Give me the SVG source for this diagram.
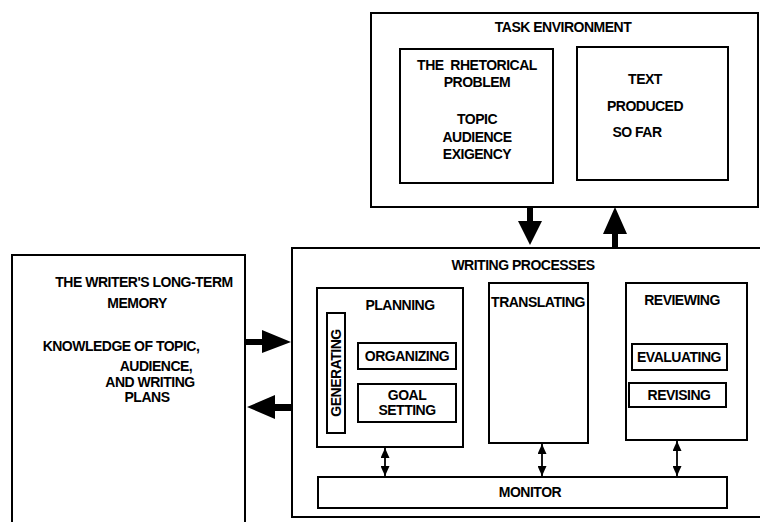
<svg xmlns="http://www.w3.org/2000/svg" width="760" height="522" viewBox="0 0 760 522">
  <style>
    .box { fill: none; stroke: #000; stroke-width: 2; }
    .t { font-family: "Liberation Sans", Arial, sans-serif; font-weight: bold; font-size: 14px; fill: #000; text-anchor: middle; letter-spacing: -0.5px; }
    .big { fill: #000; stroke: none; }
    .thin { stroke: #000; stroke-width: 1.8; fill: none; }
  </style>
  <defs>
    <marker id="tip" viewBox="0 0 10 9" refX="10" refY="4.5" markerWidth="10" markerHeight="9" orient="auto-start-reverse" markerUnits="userSpaceOnUse">
      <path d="M0,0 L10,4.5 L0,9 Z" fill="#000"/>
    </marker>
  </defs>
  <rect width="760" height="522" fill="#fff"/>

  <!-- task environment -->
  <g id="task-environment">
    <rect class="box" x="371" y="13" width="387" height="194"/>
    <text class="t" x="563" y="32">TASK ENVIRONMENT</text>
  </g>
  <g id="rhetorical-problem">
    <rect class="box" x="400" y="49" width="153" height="134"/>
    <text class="t" x="477" y="70" xml:space="preserve">THE  RHETORICAL</text>
    <text class="t" x="477" y="87">PROBLEM</text>
    <text class="t" x="477" y="124">TOPIC</text>
    <text class="t" x="477" y="142">AUDIENCE</text>
    <text class="t" x="477" y="159">EXIGENCY</text>
  </g>
  <g id="text-produced">
    <rect class="box" x="577" y="47" width="151" height="133"/>
    <text class="t" x="645" y="84">TEXT</text>
    <text class="t" x="645" y="111">PRODUCED</text>
    <text class="t" x="637" y="137">SO FAR</text>
  </g>

  <!-- long-term memory -->
  <g id="long-term-memory">
    <rect class="box" x="12" y="255" width="233" height="280"/>
    <text class="t" x="144" y="287">THE WRITER'S LONG-TERM</text>
    <text class="t" x="137" y="308">MEMORY</text>
    <text class="t" x="121" y="351">KNOWLEDGE OF TOPIC,</text>
    <text class="t" x="156" y="371">AUDIENCE,</text>
    <text class="t" x="150" y="387">AND WRITING</text>
    <text class="t" x="147" y="402">PLANS</text>
  </g>

  <!-- writing processes -->
  <g id="writing-processes">
    <rect class="box" x="292" y="248" width="470" height="269"/>
    <text class="t" x="523" y="270">WRITING PROCESSES</text>
  </g>
  <g id="planning">
    <rect class="box" x="317" y="288" width="146" height="159"/>
    <text class="t" x="400" y="310">PLANNING</text>
  </g>
  <g id="generating">
    <rect class="box" x="327" y="313" width="18" height="120"/>
    <text class="t" transform="translate(341,373) rotate(-90)">GENERATING</text>
  </g>
  <g id="organizing">
    <rect class="box" x="358" y="343" width="98" height="26"/>
    <text class="t" x="407" y="361">ORGANIZING</text>
  </g>
  <g id="goal-setting">
    <rect class="box" x="358" y="384" width="98" height="38"/>
    <text class="t" x="407" y="400">GOAL</text>
    <text class="t" x="407" y="415">SETTING</text>
  </g>
  <g id="translating">
    <rect class="box" x="489" y="283" width="99" height="160"/>
    <text class="t" x="538" y="307">TRANSLATING</text>
  </g>
  <g id="reviewing">
    <rect class="box" x="626" y="283" width="121" height="157"/>
    <text class="t" x="682" y="305">REVIEWING</text>
  </g>
  <g id="evaluating">
    <rect class="box" x="632" y="344" width="95" height="26"/>
    <text class="t" x="679" y="362">EVALUATING</text>
  </g>
  <g id="revising">
    <rect class="box" x="629" y="383" width="97" height="24"/>
    <text class="t" x="679" y="400">REVISING</text>
  </g>
  <g id="monitor">
    <rect class="box" x="318" y="477" width="409" height="31"/>
    <text class="t" x="530" y="497">MONITOR</text>
  </g>

  <!-- connectors -->
  <g id="connectors">
    <!-- task environment -> writing processes -->
    <path class="big" d="M527,207 H533 V221 H542 L530,245 L518,221 H527 Z"/>
    <!-- writing processes -> task environment -->
    <path class="big" d="M615,207 L627,234 H618 V248 H612 V234 H603 Z"/>
    <!-- long-term memory -> writing processes -->
    <path class="big" d="M245,339 H262 V330 L291,342 L262,353 V345 H245 Z"/>
    <!-- writing processes -> long-term memory -->
    <path class="big" d="M292,404 H275 V395 L247,407 L275,419 V411 H292 Z"/>
    <!-- process boxes <-> monitor -->
    <line class="thin" x1="385" y1="448" x2="385" y2="476" marker-start="url(#tip)" marker-end="url(#tip)"/>
    <line class="thin" x1="542" y1="444" x2="542" y2="476" marker-start="url(#tip)" marker-end="url(#tip)"/>
    <line class="thin" x1="677" y1="441" x2="677" y2="476" marker-start="url(#tip)" marker-end="url(#tip)"/>
  </g>
</svg>
